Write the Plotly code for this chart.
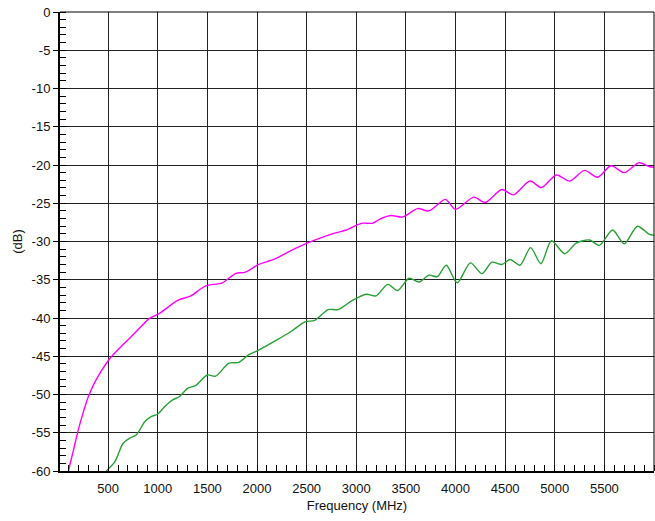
import plotly.graph_objects as go

# Magenta trace (frequency MHz, dB)
mag_freq = [85, 100, 150, 200, 250, 300, 350, 400, 517, 634, 767, 917, 1017, 1200, 1333, 1483,
            1650, 1783, 1883, 2017, 2167, 2317, 2483, 2650, 2783, 2900, 3017, 3067, 3167,
            3233, 3350, 3467, 3617, 3733, 3900, 4000, 4183, 4300, 4467, 4583, 4750, 4867,
            5017, 5150, 5300, 5433, 5567, 5700, 5850, 5950, 6000]
mag_db = [-61.0, -60.0, -57.3, -54.6, -52.3, -50.3, -48.8, -47.6, -45.3, -43.7, -42.0, -40.05,
          -39.4, -37.7, -37.1, -35.8, -35.4, -34.2, -34.0, -33.0, -32.35, -31.35, -30.35,
          -29.5, -28.9, -28.5, -27.8, -27.6, -27.6, -27.1, -26.6, -26.8, -25.7, -26.0, -24.5,
          -25.8, -24.2, -24.9, -23.2, -23.9, -22.1, -22.95, -21.3, -22.1, -20.7, -21.6,
          -20.1, -21.0, -19.7, -20.2, -20.3]

# Green trace
grn_freq = [470, 483, 567, 650, 717, 783, 867, 933, 1000, 1083, 1150, 1217, 1300, 1383, 1500,
            1583, 1717, 1817, 1917, 2017, 2183, 2350, 2483, 2583, 2717, 2817, 2950, 3100,
            3200, 3317, 3417, 3533, 3633, 3733, 3817, 3907, 4017, 4150, 4267, 4367, 4467,
            4550, 4650, 4757, 4860, 4967, 5100, 5217, 5350, 5450, 5583, 5700, 5833, 5950, 6000]
grn_db = [-60.4, -60.0, -58.8, -56.4, -55.7, -55.3, -53.6, -52.9, -52.55, -51.4, -50.7, -50.3,
          -49.2, -48.8, -47.45, -47.6, -45.9, -45.8, -44.8, -44.2, -43.0, -41.7, -40.5, -40.3,
          -38.9, -38.9, -37.8, -36.9, -37.1, -35.6, -36.4, -34.8, -35.3, -34.4, -34.6, -33.1,
          -35.4, -32.8, -34.2, -32.7, -33.0, -32.35, -33.1, -30.8, -32.9, -29.9, -31.6, -30.2,
          -29.8, -30.5, -28.5, -30.3, -28.0, -29.05, -29.2]

x_ticks = [500, 1000, 1500, 2000, 2500, 3000, 3500, 4000, 4500, 5000, 5500]
y_ticks = [0, -5, -10, -15, -20, -25, -30, -35, -40, -45, -50, -55, -60]

font = "Liberation Sans, Arial, sans-serif"

fig = go.Figure()
fig.add_trace(go.Scatter(x=mag_freq, y=mag_db, mode="lines",
                         line=dict(color="#FF00FF", width=1.4, shape="spline", smoothing=0.8),
                         showlegend=False))
fig.add_trace(go.Scatter(x=grn_freq, y=grn_db, mode="lines",
                         line=dict(color="#26A234", width=1.4, shape="spline", smoothing=0.8),
                         showlegend=False))

fig.update_layout(
    width=655, height=521,
    margin=dict(l=60, r=1, t=12, b=50, autoexpand=False),
    paper_bgcolor="white", plot_bgcolor="white",
    font=dict(family=font, size=13, color="#111"),
)
fig.update_xaxes(
    automargin=False,
    range=[15, 6000], tickvals=x_ticks, ticktext=[str(v) for v in x_ticks],
    showgrid=True, gridcolor="#222", gridwidth=1, zeroline=False,
    showline=True, linecolor="black", linewidth=2,
    ticks="", tickfont=dict(size=13), ticklabelstandoff=4,
    minor=dict(ticks="inside", dtick=100, tick0=0, ticklen=6, tickcolor="black", tickwidth=1, showgrid=False),
    title=dict(text="Frequency (MHz)", font=dict(size=13), standoff=6),
)
fig.update_yaxes(
    automargin=False,
    range=[-60, 0], tickvals=y_ticks, ticktext=[str(v) for v in y_ticks],
    showgrid=True, gridcolor="#222", gridwidth=1, zeroline=False,
    showline=True, linecolor="black", linewidth=2,
    ticks="outside", ticklen=5, tickcolor="black", tickfont=dict(size=13),
    minor=dict(ticks="inside", dtick=1, tick0=0, ticklen=6, tickcolor="black", tickwidth=1, showgrid=False),
    title=dict(text="(dB)", font=dict(size=13), standoff=6),
)
fig.add_shape(type="line", xref="paper", yref="paper", x0=0, x1=1, y0=1, y1=1,
              line=dict(color="black", width=1))
fig.add_shape(type="line", xref="paper", yref="paper", x0=1, x1=1, y0=0, y1=1,
              line=dict(color="black", width=1))

fig.write_html("out.html", config={"displayModeBar": False},
               post_script="document.body.style.margin='0';document.body.style.overflow='hidden';")
